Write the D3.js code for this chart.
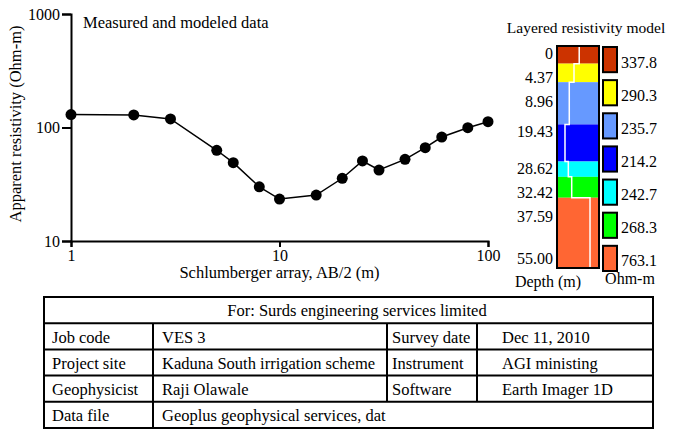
<!DOCTYPE html>
<html>
<head>
<meta charset="utf-8">
<script src="https://cdn.jsdelivr.net/npm/d3@7"></script>
<style>
  body { margin: 0; background: #fff; }
  text { font-family: 'Liberation Serif', 'Times New Roman', Times, serif; }
</style>
</head>
<body>
<div id="chart"></div>
<script>
// sounding curve
const spacing = [1, 2, 3, 5, 6, 8, 10, 15, 20, 25, 30, 40, 50, 60, 80, 100];
const apparentRho = [130, 129, 119, 63, 49, 30, 23.4, 25.4, 35.7, 50.7, 42.2, 52.4, 66.4, 82.4, 99.6, 112.5];
const xTicks = [1, 10, 100];
const yTicks = [10, 100, 1000];

// layered model
const depths = [0, 4.37, 8.96, 19.43, 28.62, 32.42, 37.59, 55.00];
const depthLabels = ['0', '4.37', '8.96', '19.43', '28.62', '32.42', '37.59', '55.00'];
const layerRho = [337.8, 290.3, 235.7, 214.2, 242.7, 268.3, 763.1];
const layerColors = ['#cc3300', '#ffff00', '#6699ff', '#0000ff', '#00ffff', '#00ff00', '#ff6633'];
const curveRho = [338, 254, 196, 155, 186, 224, 611];

// info table
const tableTitle = 'For: Surds engineering services limited';
const tableRows = [
  ['Job code', 'VES 3', 'Survey date', 'Dec 11, 2010'],
  ['Project site', 'Kaduna South irrigation scheme', 'Instrument', 'AGI ministing'],
  ['Geophysicist', 'Raji Olawale', 'Software', 'Earth Imager 1D'],
  ['Data file', 'Geoplus geophysical services, dat']
];

const width = 673;
const height = 432;
const serif = "'Liberation Serif', 'Times New Roman', Times, serif";

const svg = d3.select('#chart').append('svg')
  .attr('width', width)
  .attr('height', height)
  .attr('font-family', serif)
  .style('display', 'block');

// ---- sounding plot
const xScale = d3.scaleLog().domain([1, 100]).range([71, 488]);
const yScale = d3.scaleLog().domain([10, 1000]).range([241, 14]);

const xAxis = svg.append('g')
  .attr('transform', `translate(0,${yScale(10)})`)
  .call(d3.axisBottom(xScale).tickValues(xTicks).tickFormat(d3.format('d')).tickSizeOuter(0).tickSize(6).tickPadding(3));
const yAxis = svg.append('g')
  .attr('transform', `translate(${xScale(1)},0)`)
  .call(d3.axisLeft(yScale).tickValues(yTicks).tickFormat(d3.format('d')).tickSizeOuter(0).tickSize(9).tickPadding(2));

[xAxis, yAxis].forEach(ax => {
  ax.attr('font-family', serif).attr('font-size', 16);
  ax.select('.domain').attr('stroke', '#000').attr('stroke-width', 2);
  ax.selectAll('.tick line').attr('stroke', '#000').attr('stroke-width', 2);
  ax.selectAll('.tick text').attr('fill', '#000');
});

const line = d3.line()
  .x((d, i) => xScale(spacing[i]))
  .y(d => yScale(d));

svg.append('path')
  .datum(apparentRho)
  .attr('fill', 'none')
  .attr('stroke', '#000')
  .attr('stroke-width', 1.5)
  .attr('d', line);

svg.append('g').selectAll('circle')
  .data(apparentRho)
  .enter().append('circle')
  .attr('cx', (d, i) => xScale(spacing[i]))
  .attr('cy', d => yScale(d))
  .attr('r', 5.5)
  .attr('fill', '#000');

svg.append('text')
  .attr('x', 83)
  .attr('y', 28)
  .attr('font-size', 16.5)
  .text('Measured and modeled data');

svg.append('text')
  .attr('x', (xScale.range()[0] + xScale.range()[1]) / 2)
  .attr('y', 278)
  .attr('text-anchor', 'middle')
  .attr('font-size', 16.5)
  .text('Schlumberger array, AB/2 (m)');

svg.append('text')
  .attr('transform', 'translate(21,124) rotate(-90)')
  .attr('text-anchor', 'middle')
  .attr('font-size', 16.5)
  .text('Apparent resistivity (Ohm-m)');

// ---- layered model column
const colX0 = 557, colX1 = 599;
const depthScale = d3.scaleLinear().domain([0, 55]).range([46, 268]);
const curveScale = d3.scaleLog().domain([100, 1000]).range([colX0, colX1]);

svg.append('text')
  .attr('x', 586)
  .attr('y', 33)
  .attr('text-anchor', 'middle')
  .attr('font-size', 15.5)
  .text('Layered resistivity model');

svg.append('g').selectAll('rect')
  .data(layerRho)
  .enter().append('rect')
  .attr('x', colX0)
  .attr('width', colX1 - colX0)
  .attr('y', (d, i) => depthScale(depths[i]))
  .attr('height', (d, i) => depthScale(depths[i + 1]) - depthScale(depths[i]))
  .attr('fill', (d, i) => layerColors[i]);

const stepPts = [];
curveRho.forEach((r, i) => {
  stepPts.push([curveScale(r), depthScale(depths[i])]);
  stepPts.push([curveScale(r), depthScale(depths[i + 1])]);
});

svg.append('path')
  .datum(stepPts)
  .attr('fill', 'none')
  .attr('stroke', '#fff')
  .attr('stroke-width', 1.5)
  .attr('d', d3.line());

svg.append('rect')
  .attr('x', colX0)
  .attr('y', depthScale(0))
  .attr('width', colX1 - colX0)
  .attr('height', depthScale(55) - depthScale(0))
  .attr('fill', 'none')
  .attr('stroke', '#000')
  .attr('stroke-width', 2);

// depth labels sit below their boundary, pushed down so they do not collide
const labelY = [];
depths.forEach((d, i) => {
  let y = depthScale(d) + 12.5;
  if (i > 0) y = Math.max(y, labelY[i - 1] + 24);
  if (i === depths.length - 1) y = depthScale(d) - 4.5;
  labelY.push(y);
});

svg.append('g').selectAll('text')
  .data(depthLabels)
  .enter().append('text')
  .attr('x', 553)
  .attr('y', (d, i) => labelY[i])
  .attr('text-anchor', 'end')
  .attr('font-size', 16)
  .text(d => d);

svg.append('text')
  .attr('x', 548)
  .attr('y', 287)
  .attr('text-anchor', 'middle')
  .attr('font-size', 16)
  .text('Depth (m)');

// legend swatches
const swatchY = d3.scaleBand()
  .domain(d3.range(layerRho.length))
  .range([47, 271])
  .paddingInner(0.24);

const legend = svg.append('g').selectAll('g')
  .data(layerRho)
  .enter().append('g')
  .attr('transform', (d, i) => `translate(603,${swatchY(i)})`);

legend.append('rect')
  .attr('width', 14)
  .attr('height', swatchY.bandwidth())
  .attr('fill', (d, i) => layerColors[i])
  .attr('stroke', '#000')
  .attr('stroke-width', 2);

legend.append('text')
  .attr('x', 18)
  .attr('y', swatchY.bandwidth() / 2 + 8)
  .attr('font-size', 16)
  .text(d => d3.format('.1f')(d));

svg.append('text')
  .attr('x', 630)
  .attr('y', 284)
  .attr('text-anchor', 'middle')
  .attr('font-size', 16)
  .text('Ohm-m');

// ---- info table
const colEdges = [44, 153, 387, 477, 653];
const textPad = [8, 9, 5, 25];
const rowY = d3.scaleLinear().domain([0, 5]).range([297, 428]);

const table = svg.append('g');

table.append('rect')
  .attr('x', colEdges[0])
  .attr('y', rowY(0))
  .attr('width', colEdges[4] - colEdges[0])
  .attr('height', rowY(5) - rowY(0))
  .attr('fill', 'none')
  .attr('stroke', '#000')
  .attr('stroke-width', 2);

table.append('text')
  .attr('x', 357)
  .attr('y', rowY(0) + 19)
  .attr('text-anchor', 'middle')
  .attr('font-size', 16.5)
  .text(tableTitle);

tableRows.forEach((row, r) => {
  const top = rowY(r + 1);
  const bottom = rowY(r + 2);
  table.append('line')
    .attr('x1', colEdges[0]).attr('x2', colEdges[4])
    .attr('y1', top).attr('y2', top)
    .attr('stroke', '#000').attr('stroke-width', 2);
  row.forEach((cell, c) => {
    if (c > 0) {
      table.append('line')
        .attr('x1', colEdges[c]).attr('x2', colEdges[c])
        .attr('y1', top).attr('y2', bottom)
        .attr('stroke', '#000').attr('stroke-width', 2);
    }
    table.append('text')
      .attr('x', colEdges[c] + textPad[c])
      .attr('y', top + 19.5)
      .attr('font-size', 16.5)
      .text(cell);
  });
});
</script>
</body>
</html>
